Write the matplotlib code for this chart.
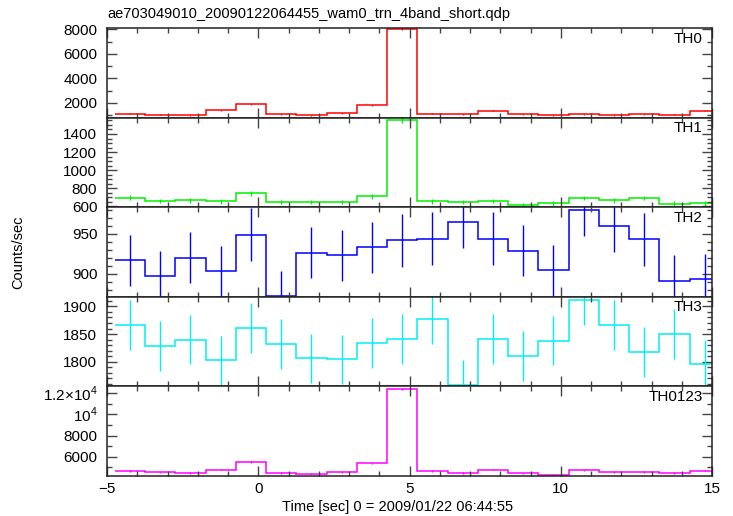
import numpy as np
import matplotlib
matplotlib.use("Agg")
import matplotlib.pyplot as plt
from matplotlib.ticker import MultipleLocator, FuncFormatter

plt.rcParams['font.family'] = ['Liberation Sans', 'DejaVu Sans']
plt.rcParams['mathtext.fontset'] = 'custom'
plt.rcParams['mathtext.rm'] = 'Liberation Sans'
plt.rcParams['font.size'] = 10.5

# time bins (1 s wide), centres
t_first = -4.24
bin_width = 1.0
times = t_first + bin_width * np.arange(20)

# count rates per band
th0 = [1117, 1035, 985, 1398, 1893, 1068, 985, 1150, 1810, 8000,
       1117, 1068, 1340, 1068, 957, 1068, 985, 1068, 1035, 1340]
th0_err = [33, 32, 31, 37, 44, 33, 31, 34, 43, 89,
           33, 33, 37, 33, 31, 33, 31, 33, 32, 37]

th1 = [696, 659, 667, 656, 748, 648, 648, 648, 715, 1555,
       656, 648, 659, 611, 633, 692, 667, 692, 630, 633]
th1_err = [26, 26, 26, 26, 27, 25, 25, 25, 27, 39,
           26, 25, 26, 25, 25, 26, 26, 26, 25, 25]

th2 = [917, 897, 920, 903, 949, 872, 926, 923, 933, 942,
       944, 965, 944, 929, 904, 980, 960, 943, 891, 893]
th2_err = [32, 32, 32, 32, 33, 31, 32, 32, 32, 33,
           33, 33, 33, 32, 32, 33, 33, 33, 32, 32]

th3 = [1866, 1828, 1840, 1802, 1861, 1832, 1806, 1804, 1834, 1841,
       1877, 1758, 1841, 1810, 1838, 1912, 1866, 1817, 1850, 1795]
th3_err = [45, 45, 45, 45, 45, 45, 44, 45, 45, 45,
           46, 44, 45, 45, 45, 46, 45, 45, 45, 45]

th0123 = [4659, 4534, 4471, 4780, 5503, 4471, 4409, 4565, 5378, 12378,
          4659, 4471, 4780, 4440, 4315, 4722, 4565, 4565, 4471, 4690]
th0123_err = [68, 67, 67, 69, 74, 67, 66, 68, 73, 111,
              68, 67, 69, 67, 66, 69, 68, 68, 67, 68]

def big_fmt(v, pos):
    if abs(v - 10000) < 1:
        return r'$10^4$'
    if abs(v - 12000) < 1:
        return r'$1.2{\times}10^4$'
    return '%d' % v

panels = [
    ('TH0', th0, th0_err, '#ff0000', (785, 8110), 2000, 1000, None),
    ('TH1', th1, th1_err, '#00f000', (592, 1581), 200, 50, None),
    ('TH2', th2, th2_err, '#0000ff', (871, 983.4), 50, 10, None),
    ('TH3', th3, th3_err, '#00f0f0', (1755, 1917.5), 50, 10, None),
    ('TH0123', th0123, th0123_err, '#ff00ff', (4190, 12630), 2000, 1000, big_fmt),
]

W, H = 733, 516
fig = plt.figure(figsize=(W / 100, H / 100), dpi=100)

left, right = 107, 712
top, bottom = 28, 476
ph = (bottom - top) / len(panels)
edges = np.append(times - bin_width / 2, times[-1] + bin_width / 2)

for i, (name, vals, errs, col, ylim, major, minor, fmt) in enumerate(panels):
    y0 = top + i * ph
    ax = fig.add_axes([left / W, 1 - (y0 + ph) / H, (right - left) / W, ph / H])
    ax.stairs(vals, edges, color=col, lw=1.1, baseline=None)
    ax.errorbar(times, vals, yerr=errs, fmt='none', ecolor=col, elinewidth=1.0, capsize=0)
    ax.set_xlim(-5, 15)
    ax.set_ylim(*ylim)
    ax.xaxis.set_major_locator(MultipleLocator(5))
    ax.xaxis.set_minor_locator(MultipleLocator(1))
    ax.yaxis.set_major_locator(MultipleLocator(major))
    ax.yaxis.set_minor_locator(MultipleLocator(minor))
    if fmt is not None:
        ax.yaxis.set_major_formatter(FuncFormatter(fmt))
    ax.tick_params(which='both', direction='in', top=True, right=True, colors='#444444',
                   labelcolor='black', width=1.0, labelsize=11)
    ax.tick_params(which='major', length=7)
    ax.tick_params(which='minor', length=3.5)
    ax.tick_params(axis='y', which='major', pad=7)
    ax.tick_params(axis='x', which='major', pad=4)
    ax.tick_params(axis='x', labelbottom=(i == len(panels) - 1))
    for s in ax.spines.values():
        s.set_linewidth(1.1)
        s.set_color('#222222')
    ax.text(0.985, 0.96, name, transform=ax.transAxes, ha='right', va='top', fontsize=11)

fig.text(left / W, 1 - 14 / H, 'ae703049010_20090122064455_wam0_trn_4band_short.qdp',
         ha='left', va='center', fontsize=10.5)
fig.text(398 / W, 1 - 507 / H, 'Time [sec] 0 = 2009/01/22 06:44:55',
         ha='center', va='center', fontsize=10.5)
fig.text(18 / W, 1 - 252 / H, 'Counts/sec', rotation=90, ha='center', va='center', fontsize=10.5)

fig.savefig('out.png', dpi=100)
